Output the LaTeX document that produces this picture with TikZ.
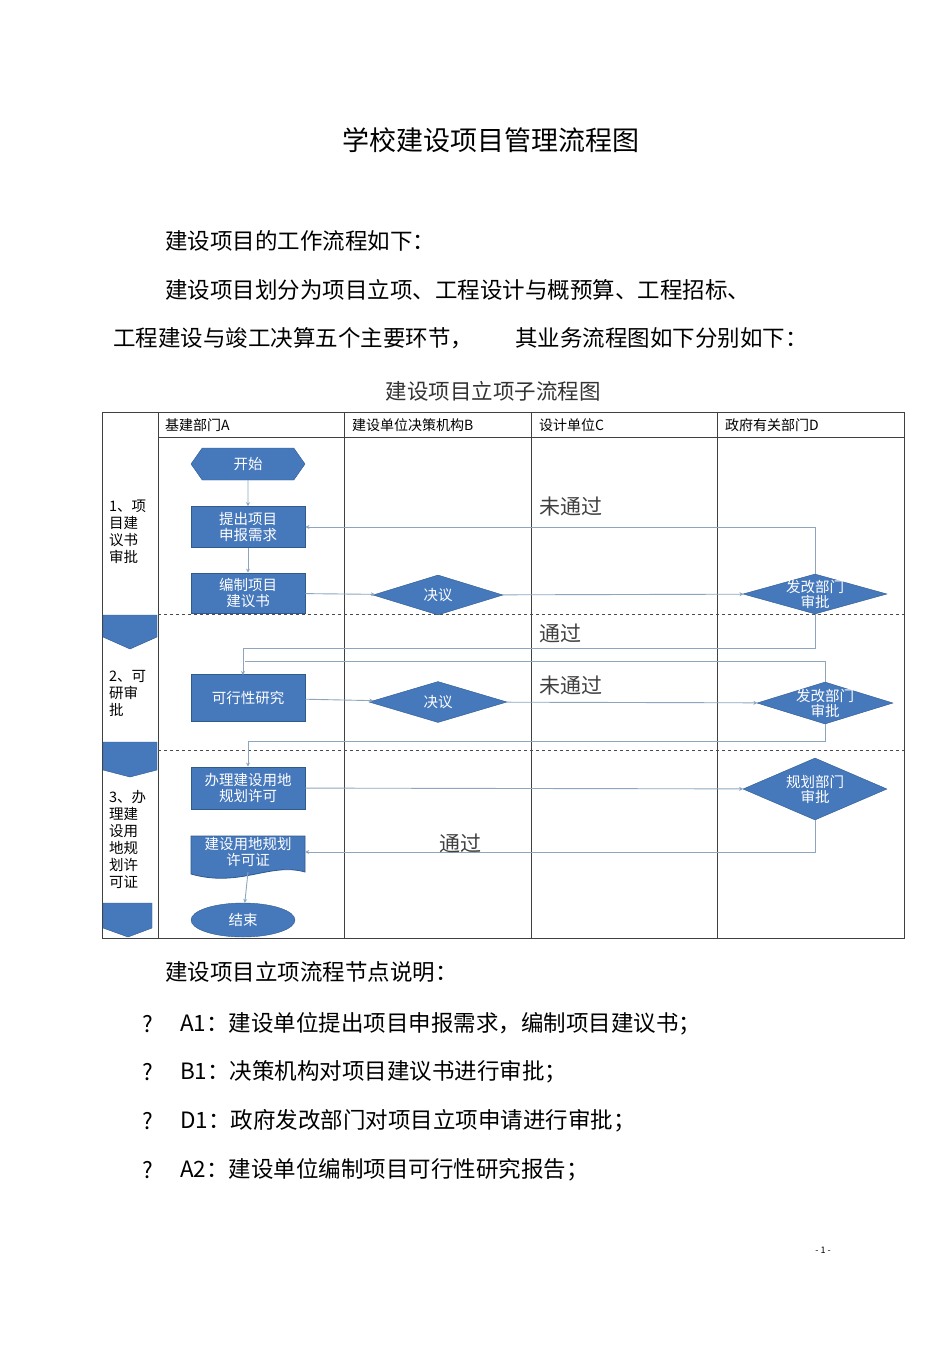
\documentclass[tikz,border=0pt]{standalone}
\usepackage{fontspec}
\setmainfont{Noto Sans CJK SC}
\setsansfont{Noto Sans CJK SC}
\usetikzlibrary{shapes.geometric,shapes.symbols,arrows.meta}
\definecolor{bfill}{HTML}{4678BC}
\definecolor{bline}{HTML}{2F5A8C}
\definecolor{cline}{HTML}{8CA6C0}
\begin{document}
\begin{tikzpicture}[x=1pt,y=-1pt,
  box/.style={draw=bline,fill=bfill,text=white,minimum width=114pt,inner sep=1pt,align=center,font=\fontsize{14.5}{16}\selectfont,line width=0.8pt},
  dia/.style={diamond,draw=bline,fill=bfill,inner sep=0pt},
  dtext/.style={text=white,align=center,inner sep=0pt,font=\fontsize{14.5}{15}\selectfont},
  conn/.style={draw=cline,line width=0.9pt,-{Stealth[length=4pt,width=4pt]}},
  cline/.style={draw=cline,line width=0.9pt},
  grid/.style={draw=black!75,line width=0.9pt},
  body/.style={anchor=west,font=\fontsize{22.5}{24}\selectfont,inner sep=0pt},
  hdr/.style={anchor=west,font=\fontsize{14}{15}\selectfont,inner sep=0pt},
  lbl/.style={font=\fontsize{21}{22}\selectfont,text=black!75,inner sep=0pt},
  side/.style={anchor=north west,align=left,font=\fontsize{14.5}{17}\selectfont,inner sep=0pt}]
\useasboundingbox (0,0) rectangle (950,1345);
% texts
\node[font=\fontsize{27}{29}\selectfont] (title) at (491,140) {学校建设项目管理流程图};
\node[body] (p1) at (165,241) {建设项目的工作流程如下：};
\node[body] (p2) at (165,290) {建设项目划分为项目立项、工程设计与概预算、工程招标、};
\node[body] (p3) at (113,338) {工程建设与竣工决算五个主要环节，};
\node[body] (p4) at (515,338) {其业务流程图如下分别如下：};
\node[font=\fontsize{21.5}{23}\selectfont,text=black!80] (ctitle) at (493,391) {建设项目立项子流程图};
% grid
\draw[grid] (102,412) rectangle (904,938);
\draw[grid] (158,437) -- (904,437);
\foreach \x in {158,344,531,717} \draw[grid] (\x,412) -- (\x,938);
\draw[dashed,line width=0.8pt,black!70] (158,614) -- (904,614);
\draw[dashed,line width=0.8pt,black!70] (158,750) -- (904,750);
\fill[bfill,draw=bline] (103,615) -- (157,615) -- (157,637) -- (130,649) -- (103,637) -- cycle;
\fill[bfill,draw=bline] (103,742) -- (157,742) -- (157,770) -- (130,777) -- (103,770) -- cycle;
\fill[bfill,draw=bline] (103,903) -- (152,903) -- (152,928) -- (128,937) -- (103,928) -- cycle;
\node[hdr] (hA) at (165,425) {基建部门A};
\node[hdr] (hB) at (352,425) {建设单位决策机构B};
\node[hdr] (hC) at (539,425) {设计单位C};
\node[hdr] (hD) at (725,425) {政府有关部门D};
\node[side] (s1) at (109,500) {1、项\\目建\\议书\\审批};
\node[side] (s2) at (109,670) {2、可\\研审\\批};
\node[side] (s3) at (109,790) {3、办\\理建\\设用\\地规\\划许\\可证};
% nodes
\node[signal,signal to=west and east,signal pointer angle=110,draw=bline,fill=bfill,text=white,minimum width=114pt,minimum height=32pt,inner sep=0pt,font=\fontsize{14.5}{15}\selectfont] (start) at (248,464) {开始};
\node[box,minimum height=41pt] (a1) at (248,527) {提出项目\\申报需求};
\node[box,minimum height=40pt] (a2) at (248,593) {编制项目\\建议书};
\node[dia,minimum width=130pt,minimum height=40pt] (b1) at (438,595) {};
\node[dtext] (b1t) at (b1.center) {决议};
\node[dia,minimum width=144pt,minimum height=40pt] (d1) at (815,594) {};
\node[dtext] (d1t) at (d1.center) {发改部门\\审批};
\node[box,minimum height=47pt] (a3) at (248,698) {可行性研究};
\node[dia,minimum width=138pt,minimum height=41pt] (b2) at (438,702) {};
\node[dtext] (b2t) at (b2.center) {决议};
\node[dia,minimum width=136pt,minimum height=42pt] (d2) at (825,703) {};
\node[dtext] (d2t) at (d2.center) {发改部门\\审批};
\node[box,minimum height=42pt] (a4) at (248,788) {办理建设用地\\规划许可};
\node[dia,minimum width=144pt,minimum height=62pt] (d3) at (815,789) {};
\node[dtext] (d3t) at (d3.center) {规划部门\\审批};
\fill[bfill,draw=bline,line width=0.8pt] (191,836) -- (305,836) -- (305,872) .. controls (270,862) and (240,888) .. (191,874) -- cycle;
\node[minimum width=114pt,minimum height=40pt,inner sep=0pt,text=white,align=center,font=\fontsize{14.5}{16}\selectfont] (a5) at (248,852) {建设用地规划\\许可证};
\node[ellipse,draw=bline,fill=bfill,text=white,minimum width=104pt,minimum height=34pt,inner sep=0pt,font=\fontsize{14.5}{15}\selectfont] (end) at (243,920) {结束};
% connectors
\draw[conn] (start) -- (a1);
\draw[conn] (a1) -- (a2);
\draw[conn] (a2) -- (b1);
\draw[conn] (b1) -- (d1);
\draw[conn] (d1.north) |- (a1.east);
\draw[conn] (d1.south) |- (243,648) -- (243,675);
\draw[conn] (a3) -- (b2);
\draw[conn] (b2) -- (d2);
\draw[cline] (d2.north) |- (245,661);
\draw[conn] (d2.south) |- (248,741) -- (a4.north);
\draw[conn] (a4) -- (d3);
\draw[conn] (d3.south) |- (a5.east);
\draw[conn] (a5.south) -- (end);
\node[lbl] (n1) at (571,507) {未通过};
\node[lbl] (n2) at (560,633) {通过};
\node[lbl] (n3) at (571,686) {未通过};
\node[lbl] (n4) at (460,843) {通过};
% notes
\node[body] (q0) at (165,972) {建设项目立项流程节点说明：};
\foreach \yy/\t [count=\i] in {1024/{A1：建设单位提出项目申报需求，编制项目建议书；},1072/{B1：决策机构对项目建议书进行审批；},1121/{D1：政府发改部门对项目立项申请进行审批；},1170/{A2：建设单位编制项目可行性研究报告；}}{
  \node[body] (qm\i) at (142,\yy) {?};
  \node[body] (q\i) at (180,\yy) {\t};
}
\node[font=\fontsize{9}{10}\selectfont] (pg) at (823,1250) {- 1 -};
\end{tikzpicture}
\end{document}
